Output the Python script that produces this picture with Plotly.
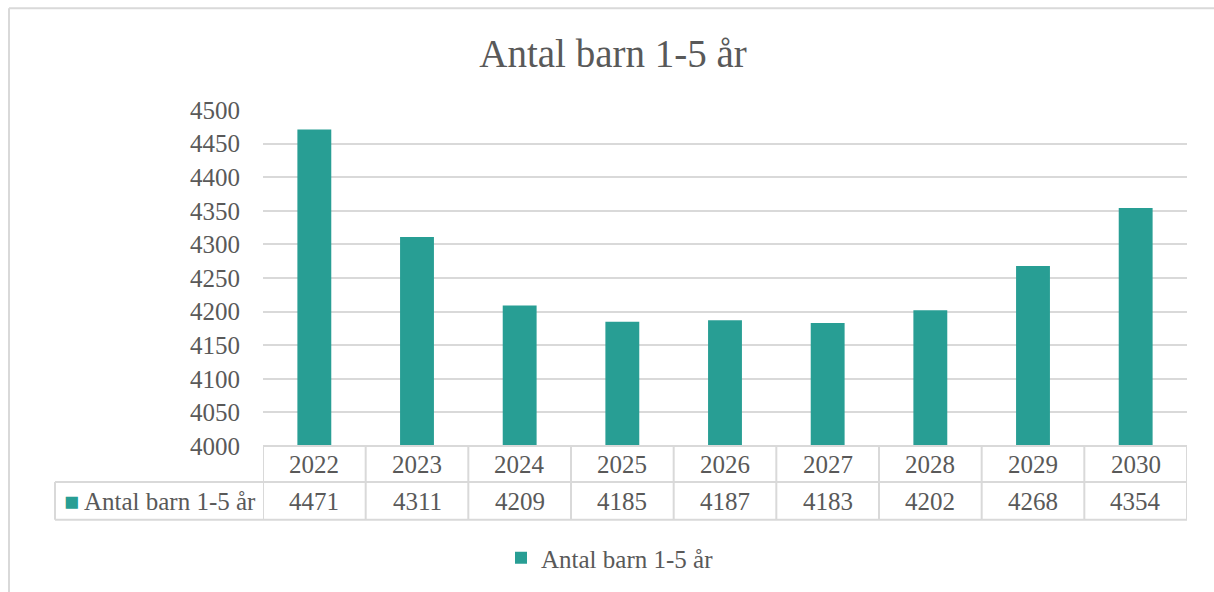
import plotly.graph_objects as go

years = ["2022", "2023", "2024", "2025", "2026", "2027", "2028", "2029", "2030"]
barn = [4471, 4311, 4209, 4185, 4187, 4183, 4202, 4268, 4354]
series_name = "Antal barn 1-5 år"
y_ticks = [4000, 4050, 4100, 4150, 4200, 4250, 4300, 4350, 4400, 4450, 4500]

BAR = "#289E94"
GRID = "#D9D9D9"
TXT = "#595959"
FONT = "Liberation Serif, Times New Roman, serif"

fig = go.Figure()
fig.add_trace(go.Bar(
    x=years, y=barn, name=series_name,
    marker=dict(color=BAR, line=dict(width=0)),
    width=0.33,
))

# plot area: x 263..1187, y 110..447 px
W, H = 1214, 592
L, R, T, B = 263, 27, 110, 145
pw, ph = W - L - R, H - T - B


def py(ypx):
    return (H - B - ypx) / ph


def px(xpx):
    return (xpx - L) / pw


shapes = []
line = dict(color=GRID, width=2)
# data table grid
shapes.append(dict(type="line", xref="paper", yref="paper", x0=0, x1=1, y0=py(447), y1=py(447), line=line))
shapes.append(dict(type="line", xref="paper", yref="paper", x0=px(55), x1=1, y0=py(483), y1=py(483), line=line))
shapes.append(dict(type="line", xref="paper", yref="paper", x0=px(55), x1=1, y0=py(521), y1=py(521), line=line))
shapes.append(dict(type="line", xref="paper", yref="paper", x0=px(55), x1=px(55), y0=py(483), y1=py(521), line=line))
for i in range(len(years) + 1):
    shapes.append(dict(type="line", xref="x", yref="paper", x0=i - 0.5, x1=i - 0.5,
                       y0=py(447), y1=py(521), line=line))
# outer chart border (top and left)
shapes.append(dict(type="line", xref="paper", yref="paper", x0=px(9), x1=px(W + 5), y0=py(8), y1=py(8), line=line))
shapes.append(dict(type="line", xref="paper", yref="paper", x0=px(9), x1=px(9), y0=py(8), y1=py(H + 5), line=line))

annotations = []
for i, (yr, v) in enumerate(zip(years, barn)):
    annotations.append(dict(x=i, y=py(466), xref="x", yref="paper", text=yr, showarrow=False,
                            font=dict(family=FONT, size=25, color=TXT), xanchor="center", yanchor="middle"))
    annotations.append(dict(x=i, y=py(503), xref="x", yref="paper", text=str(v), showarrow=False,
                            font=dict(family=FONT, size=25, color=TXT), xanchor="center", yanchor="middle"))
annotations.append(dict(x=px(62), y=py(503), xref="paper", yref="paper",
                        text=f"<span style='color:{BAR}'>■</span> {series_name}", showarrow=False,
                        font=dict(family=FONT, size=25, color=TXT), xanchor="left", yanchor="middle"))

fig.update_layout(
    width=W, height=H,
    margin=dict(l=L, r=R, t=T, b=B),
    paper_bgcolor="white", plot_bgcolor="white",
    title=dict(text="Antal barn 1-5 år", x=613 / W, xref="container", xanchor="center",
               y=1 - 53 / H, yref="container", yanchor="middle",
               font=dict(family=FONT, size=39, color=TXT)),
    xaxis=dict(type="category", showticklabels=False, showgrid=False, zeroline=False,
               showline=False, ticks="", range=[-0.5, len(years) - 0.5]),
    yaxis=dict(range=[4000, 4500], tickvals=y_ticks, showgrid=True, gridcolor=GRID, gridwidth=2,
               zeroline=False, showline=False, ticks="", ticklabelstandoff=22,
               tickfont=dict(family=FONT, size=25, color=TXT)),
    showlegend=True,
    legend=dict(orientation="h", x=px(610), xanchor="center", y=py(558), yanchor="middle",
                font=dict(family=FONT, size=25, color=TXT), itemwidth=30),
    shapes=shapes,
    annotations=annotations,
    bargap=0.67,
)

fig.write_html("out.html", config={"displayModeBar": False},
               post_script="document.body.style.margin='0';")
